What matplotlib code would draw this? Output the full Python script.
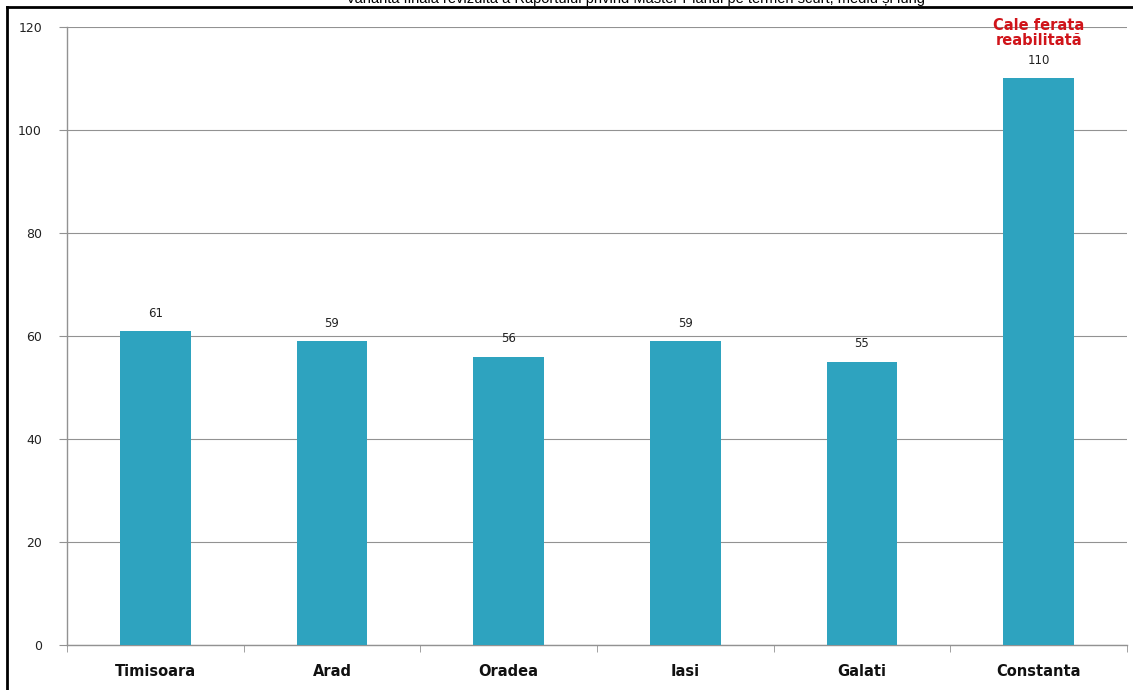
import matplotlib
matplotlib.use('Agg')
import matplotlib.pyplot as plt
from matplotlib.lines import Line2D
import numpy as np

# Data
orase = ['Timisoara', 'Arad', 'Oradea', 'Iasi', 'Galati', 'Constanta']
valori = [61, 59, 56, 59, 55, 110]
y_ticks = [0, 20, 40, 60, 80, 100, 120]
titlu = 'Varianta finală revizuită a Raportului privind Master Planul pe termen scurt, mediu și lung'
nota = 'Cale ferata\nreabilitată'

culoare_bara = '#2ea3bf'
gri = '#929292'

fig = plt.figure(figsize=(11.33, 6.9), dpi=100)
ax = fig.add_axes([0.0591, 0.0652, 0.9356, 0.8957])

x = np.arange(len(orase))
ax.bar(x, valori, width=0.4, color=culoare_bara, zorder=3)

ax.set_xlim(-0.5, len(orase) - 0.5)
ax.set_ylim(0, 120)
ax.set_yticks(y_ticks)
ax.set_yticklabels([str(v) for v in y_ticks], fontsize=9, color='#222222')
ax.yaxis.grid(True, color=gri, linewidth=0.8, zorder=0)
ax.tick_params(axis='y', length=6, color=gri, pad=12)

# category labels centred, ticks on category boundaries
ax.set_xticks(x)
ax.set_xticklabels(orase, fontsize=10.5, fontweight='bold', color='#111111')
ax.tick_params(axis='x', length=0, pad=14)
ax.set_xticks(np.arange(len(orase) + 1) - 0.5, minor=True)
ax.tick_params(axis='x', which='minor', length=5, color=gri, direction='out')

for s in ['top', 'right']:
    ax.spines[s].set_visible(False)
for s in ['left', 'bottom']:
    ax.spines[s].set_color(gri)
    ax.spines[s].set_linewidth(1)

for xi, v in zip(x, valori):
    ax.text(xi, v + 2.2, str(v), ha='center', va='bottom', fontsize=8.5, color='#222222')

ax.text(x[-1], valori[-1] + 6.0, nota, ha='center', va='bottom', fontsize=10.5,
        fontweight='bold', color='#d0141a', linespacing=1.0)

# frame and clipped heading
fig.add_artist(Line2D([7 / 1133, 7 / 1133], [0, 1 - 7 / 690], color='black', lw=2))
fig.add_artist(Line2D([7 / 1133, 1], [1 - 7 / 690, 1 - 7 / 690], color='black', lw=2))
fig.text(635 / 1133, 1 - 3 / 690, titlu, ha='center', va='baseline',
         fontsize=10.5, family='Liberation Sans', color='black')

fig.savefig('out.png', dpi=100)
